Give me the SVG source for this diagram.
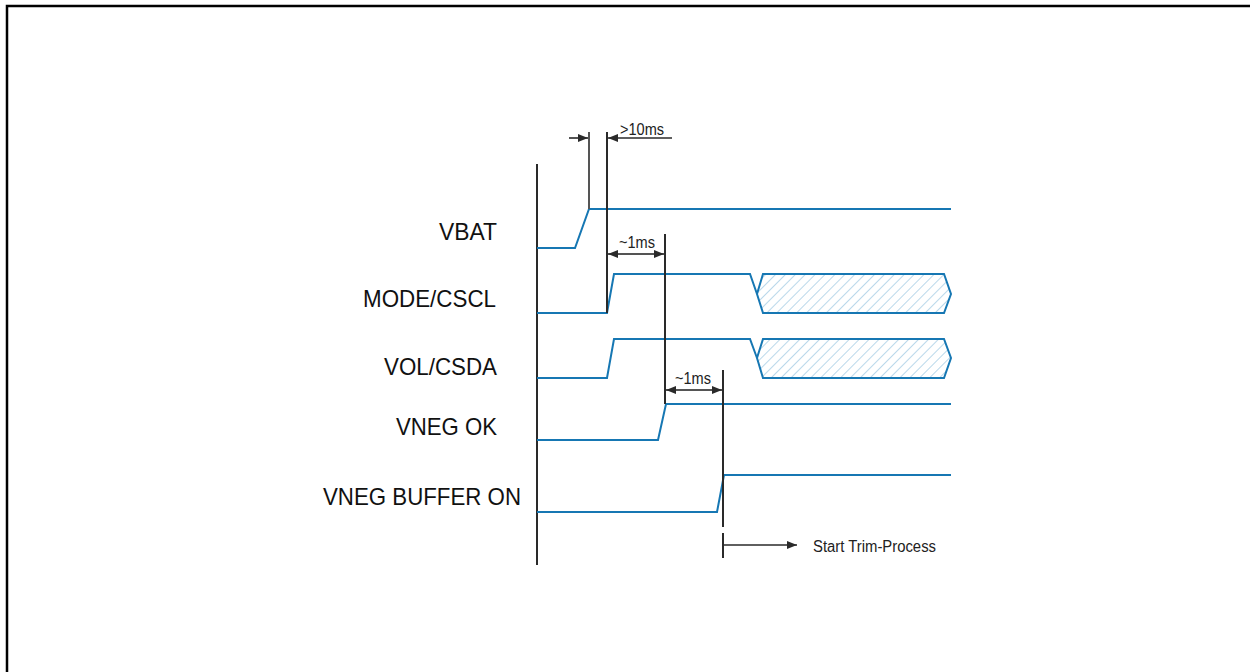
<svg xmlns="http://www.w3.org/2000/svg" width="1250" height="672" viewBox="0 0 1250 672">
<style>
.sig{fill:none;stroke:#1677b3;stroke-width:2;stroke-linejoin:miter}
.bus{fill:url(#hatch);stroke:#1677b3;stroke-width:2}
.vl{stroke:#2a2a2a;stroke-width:2;fill:none}
.dim{stroke:#2a2a2a;stroke-width:1.6;fill:none}
.lbl{font-family:"Liberation Sans",Arial,sans-serif;font-size:24px;fill:#111}
.sm{font-family:"Liberation Sans",Arial,sans-serif;font-size:16px;fill:#222}
</style>
<defs>
<pattern id="hatch" patternUnits="userSpaceOnUse" width="7" height="7" patternTransform="rotate(45)">
<line x1="0" y1="0" x2="0" y2="7" stroke="#94c3df" stroke-width="1.3"/>
</pattern>
<marker id="ah" viewBox="0 0 10 10" refX="10" refY="5" markerWidth="10" markerHeight="10" markerUnits="userSpaceOnUse" orient="auto">
<path d="M0,1 L10,5 L0,9 Z" fill="#2a2a2a"/>
</marker>
</defs>
<rect width="1250" height="672" fill="#fff"/>
<path d="M7,672 V6 H1250" fill="none" stroke="#000" stroke-width="2.5"/>

<g id="axis"><line x1="537" y1="164" x2="537" y2="565" class="vl"/></g>

<g id="labels">
<text class="lbl" x="497" y="240" text-anchor="end" textLength="58" lengthAdjust="spacingAndGlyphs">VBAT</text>
<text class="lbl" x="496" y="307" text-anchor="end" textLength="133" lengthAdjust="spacingAndGlyphs">MODE/CSCL</text>
<text class="lbl" x="497" y="375" text-anchor="end" textLength="113" lengthAdjust="spacingAndGlyphs">VOL/CSDA</text>
<text class="lbl" x="497" y="435" text-anchor="end" textLength="101" lengthAdjust="spacingAndGlyphs">VNEG OK</text>
<text class="lbl" x="521" y="505" text-anchor="end" textLength="198" lengthAdjust="spacingAndGlyphs">VNEG BUFFER ON</text>
</g>

<g id="vbat"><path class="sig" d="M537,248 H575 L589,209 H951"/></g>
<g id="mode"><path class="sig" d="M537,313 H607 L614,274 H750 L757,294"/>
<path class="bus" d="M757,294 L763,274 H944 L951,294 L944,313 H763 Z"/></g>
<g id="vol"><path class="sig" d="M537,378 H607 L614,339 H750 L757,358"/>
<path class="bus" d="M757,358 L763,339 H944 L951,358 L944,378 H763 Z"/></g>
<g id="vnegok"><path class="sig" d="M537,440 H658 L666,404 H951"/></g>
<g id="vnegbuf"><path class="sig" d="M537,512 H717 L724,475 H951"/></g>

<g id="connectors">
<line x1="589" y1="132" x2="589" y2="209" stroke="#555" stroke-width="2"/>
<line x1="607" y1="132" x2="607" y2="313" class="vl"/>
<line x1="569" y1="138" x2="588" y2="138" class="dim" marker-end="url(#ah)"/>
<line x1="672" y1="138" x2="608" y2="138" class="dim" marker-end="url(#ah)"/>
<line x1="665" y1="234" x2="665" y2="404" class="vl"/>
<line x1="636" y1="254" x2="608" y2="254" class="dim" marker-end="url(#ah)"/>
<line x1="636" y1="254" x2="664" y2="254" class="dim" marker-end="url(#ah)"/>
<line x1="723" y1="370" x2="723" y2="527" class="vl"/>
<line x1="694" y1="390" x2="666" y2="390" class="dim" marker-end="url(#ah)"/>
<line x1="694" y1="390" x2="722" y2="390" class="dim" marker-end="url(#ah)"/>
<line x1="723" y1="533" x2="723" y2="558" class="vl"/>
<line x1="723" y1="545" x2="797" y2="545" class="dim" marker-end="url(#ah)"/>
</g>

<g id="dimtext">
<text class="sm" x="620" y="135" textLength="44" lengthAdjust="spacingAndGlyphs">&gt;10ms</text>
<text class="sm" x="619" y="248" textLength="36" lengthAdjust="spacingAndGlyphs">~1ms</text>
<text class="sm" x="675" y="384" textLength="36" lengthAdjust="spacingAndGlyphs">~1ms</text>
<text class="sm" x="813" y="552" textLength="123" lengthAdjust="spacingAndGlyphs">Start Trim-Process</text>
</g>
</svg>
